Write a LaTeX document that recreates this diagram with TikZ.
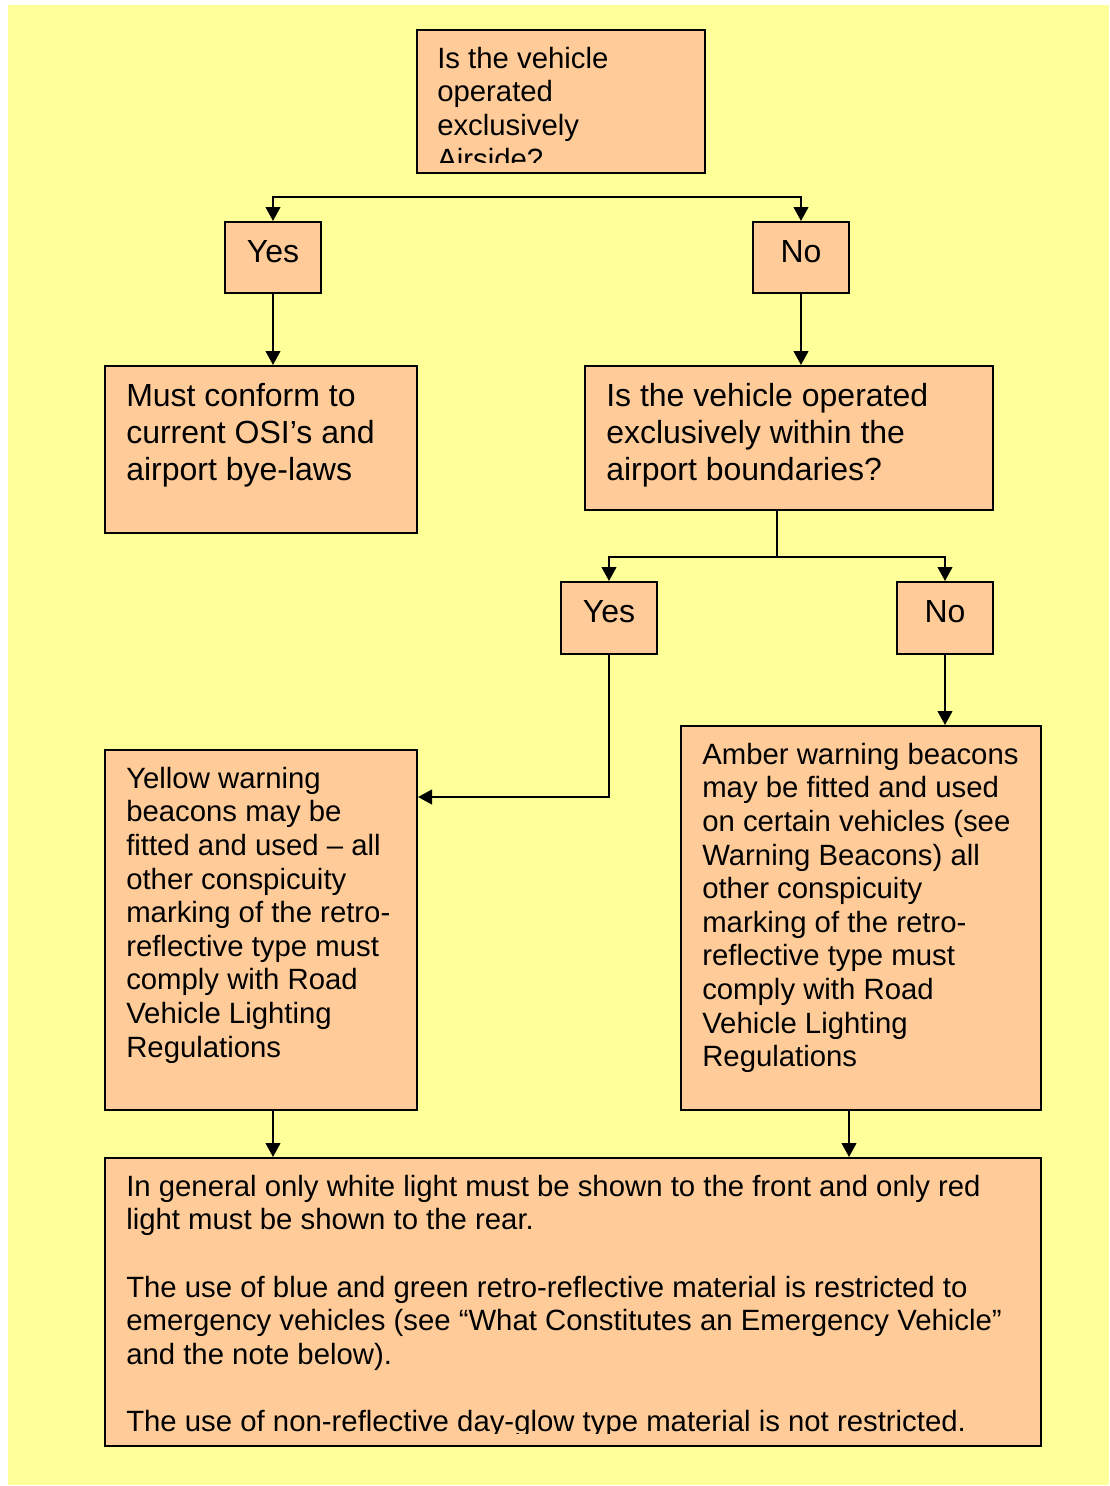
\documentclass[tikz,border=0pt]{standalone}
\usepackage{fontspec}
\setmainfont{Liberation Sans}
\usetikzlibrary{arrows.meta,calc}
\definecolor{pagebg}{HTML}{FFFF99}
\definecolor{boxfill}{HTML}{FFCC99}
\begin{document}
\begin{tikzpicture}[x=0.75pt,y=-0.75pt,
  box/.style={draw=black,fill=boxfill,line width=1.5pt,rectangle,inner sep=0pt},
  arr/.style={line width=1.5pt,-{Triangle[length=10.5pt,width=11pt]}},
  link/.style={line width=1.5pt},
  big/.style={font=\fontsize{24}{27.75}\selectfont},
  small/.style={font=\fontsize{22}{25.2}\selectfont},
  txt/.style={anchor=north west,inner sep=0pt,align=left},
  lbl/.style={anchor=base,inner sep=0pt,big},
]
\useasboundingbox (0,0) rectangle (1110,1486);
\fill[pagebg] (8,5) rectangle (1109,1485);

% boxes
\node[box,minimum width=216pt,minimum height=107.25pt] (q1) at (561,101.5) {};
\node[box,minimum width=72pt,minimum height=53.25pt] (y1) at (273,257.5) {};
\node[box,minimum width=72pt,minimum height=53.25pt] (n1) at (801,257.5) {};
\node[box,minimum width=234pt,minimum height=125.25pt] (m1) at (261,449.5) {};
\node[box,minimum width=306pt,minimum height=108pt] (q2) at (789,438) {};
\node[box,minimum width=72pt,minimum height=54pt] (y2) at (609,618) {};
\node[box,minimum width=72pt,minimum height=54pt] (n2) at (945,618) {};
\node[box,minimum width=234pt,minimum height=270pt] (b3) at (261,930) {};
\node[box,minimum width=270pt,minimum height=288pt] (b4) at (861,918) {};
\node[box,minimum width=702pt,minimum height=216pt] (b5) at (573,1302) {};

% connectors
\coordinate (s1) at (561,197);
\draw[arr] (s1) -| (y1.north);
\draw[arr] (s1) -| (n1.north);
\draw[arr] (y1.south) -- (y1.south |- m1.north);
\draw[arr] (n1.south) -- (n1.south |- q2.north);
\coordinate (s2) at (777,557);
\draw[link] (s2 |- q2.south) -- (s2);
\draw[arr] (s2) -| (y2.north);
\draw[arr] (s2) -| (n2.north);
\coordinate (b3in) at ($(b3.north east)+(0,48)$);
\draw[arr] (y2.south) |- (b3in);
\draw[arr] (n2.south) -- (n2.south |- b4.north);
\coordinate (b3out) at ($(b3.south)+(12,0)$);
\draw[arr] (b3out) -- (b3out |- b5.north);
\coordinate (b4out) at ($(b4.south)+(-12,0)$);
\draw[arr] (b4out) -- (b4out |- b5.north);

% texts
\begin{scope}
  \clip (417,30) rectangle (705,162);
  \node[txt,small] (tq1) at (437,44.5) {\strut Is the vehicle\\operated\\exclusively\\Airside?};
\end{scope}
\node[lbl] (ty1) at (273,262) {Yes};
\node[lbl] (tn1) at (801,262) {No};
\node[lbl] (ty2) at (609,622) {Yes};
\node[lbl] (tn2) at (945,622) {No};
\node[txt,big] (tm1) at (126,380.1) {\strut Must conform to\\current OSI’s and\\airport bye-laws};
\node[txt,big] (tq2) at (606,380.1) {\strut Is the vehicle operated\\exclusively within the\\airport boundaries?};
\node[txt,small] (tb3) at (126,764.5) {\strut Yellow warning\\beacons may be\\fitted and used – all\\other conspicuity\\marking of the retro-\\reflective type must\\comply with Road\\Vehicle Lighting\\Regulations};
\node[txt,small] (tb4) at (702,740.5) {\strut Amber warning beacons\\may be fitted and used\\on certain vehicles (see\\Warning Beacons) all\\other conspicuity\\marking of the retro-\\reflective type must\\comply with Road\\Vehicle Lighting\\Regulations};
\begin{scope}
  \clip (105,1158) rectangle (1041,1433.5);
  \node[txt,small] (tb5) at (126,1172.5) {\strut In general only white light must be shown to the front and only red\\light must be shown to the rear.\\[25.2pt]The use of blue and green retro-reflective material is restricted to\\emergency vehicles (see “What Constitutes an Emergency Vehicle”\\and the note below).\\[25.2pt]The use of non-reflective day-glow type material is not restricted.};
\end{scope}
\end{tikzpicture}
\end{document}
